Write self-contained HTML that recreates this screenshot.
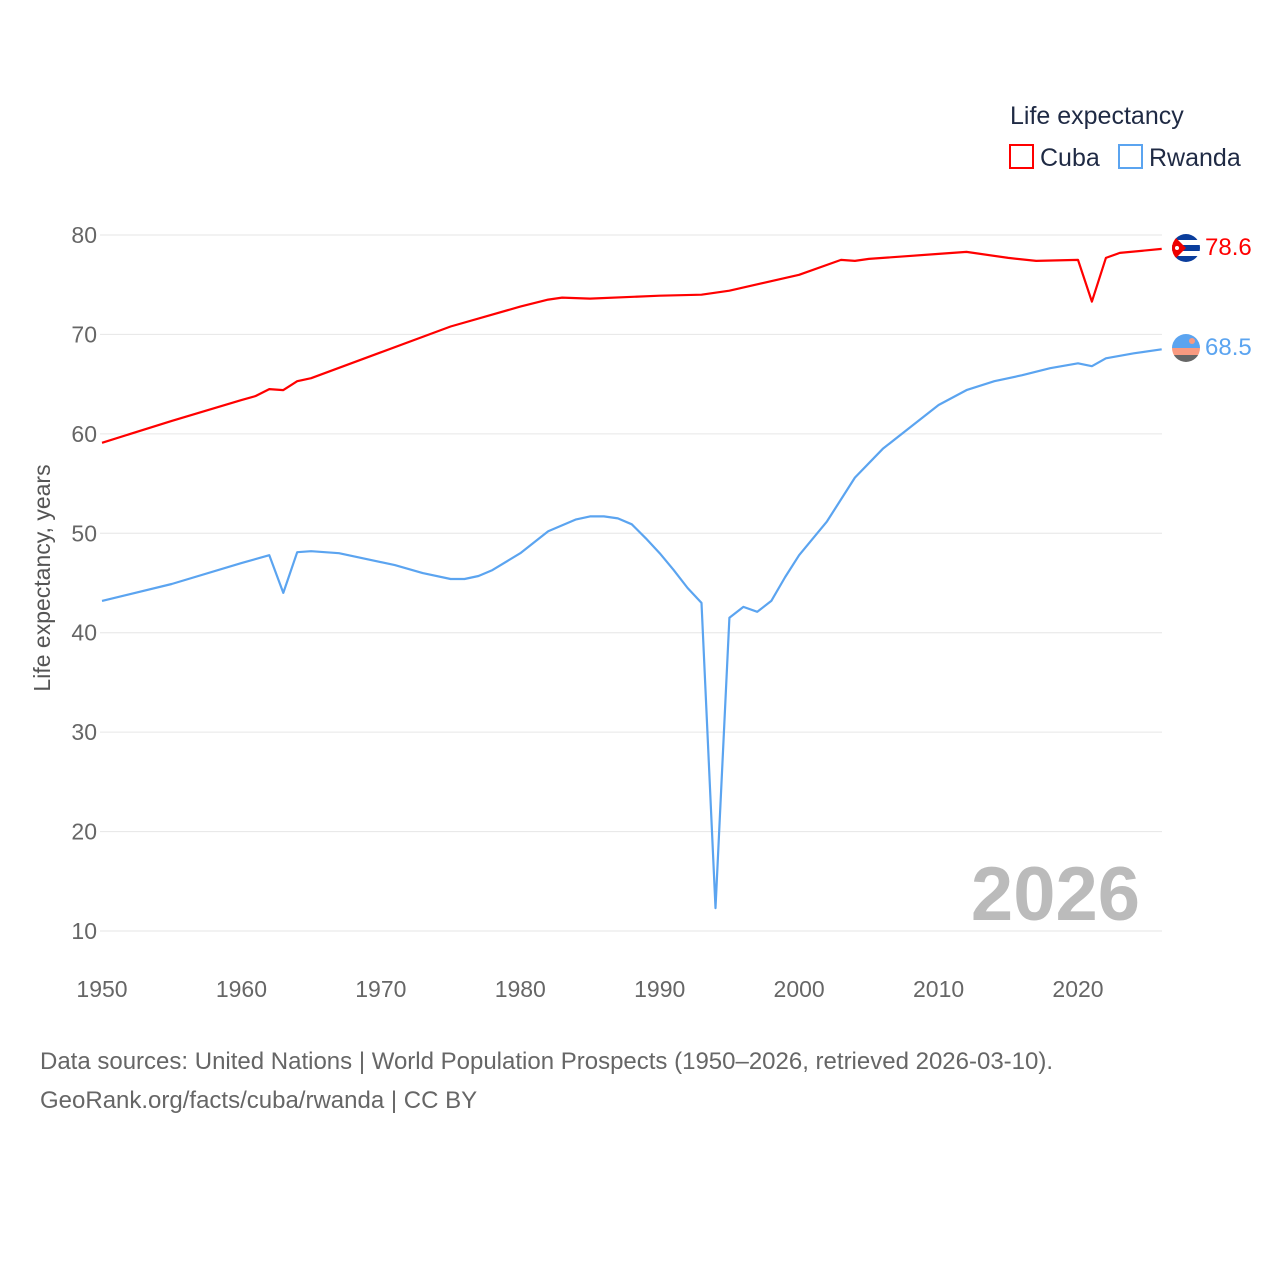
<!DOCTYPE html>
<html><head><meta charset="utf-8"><style>
body{margin:0;background:#fff;font-family:"Liberation Sans",sans-serif}
svg text{font-family:"Liberation Sans",sans-serif}
</style></head><body>
<svg id="chart" width="1280" height="1280" xmlns="http://www.w3.org/2000/svg">
<defs>
<clipPath id="c1"><circle cx="1186" cy="248" r="14"/></clipPath>
<clipPath id="c2"><circle cx="1186" cy="348" r="14"/></clipPath>
</defs>
<text x="1010" y="124" font-size="25" fill="#1f2a44">Life expectancy</text>
<g><rect x="1010" y="145" width="23" height="23" fill="none" stroke="#f00" stroke-width="2"/><text x="1040" y="166" font-size="25" fill="#1f2a44">Cuba</text></g>
<g><rect x="1119" y="145" width="23" height="23" fill="none" stroke="#5ba4f0" stroke-width="2"/><text x="1149" y="166" font-size="25" fill="#1f2a44">Rwanda</text></g>
<g id="grid"></g>
<g id="yticks"></g>
<g id="xticks"></g>
<text transform="translate(50,578) rotate(-90)" text-anchor="middle" font-size="23" fill="#555">Life expectancy, years</text>
<text x="1140" y="920" text-anchor="end" font-size="76" font-weight="bold" fill="#bbb">2026</text>
<g id="series"></g>
<g clip-path="url(#c1)">
<rect x="1172" y="234" width="28" height="28" fill="#fff"/>
<rect x="1172" y="234" width="28" height="6" fill="#0a3d9c"/><rect x="1172" y="245" width="28" height="6" fill="#0a3d9c"/><rect x="1172" y="256" width="28" height="6" fill="#0a3d9c"/>
<polygon points="1172,234 1186,248 1172,262" fill="#e00"/><circle cx="1177" cy="248" r="2" fill="#fff"/></g>
<g clip-path="url(#c2)">
<rect x="1172" y="334" width="28" height="14" fill="#5ba4f0"/><rect x="1172" y="348" width="28" height="7" fill="#f99a80"/><rect x="1172" y="355" width="28" height="7" fill="#666"/><circle cx="1192" cy="341" r="3" fill="#f99a80"/></g>
<text x="1205" y="255" font-size="24" fill="#f00">78.6</text>
<text x="1205" y="355" font-size="24" fill="#5ba4f0">68.5</text>
<text x="40" y="1069" font-size="24" fill="#666">Data sources: United Nations | World Population Prospects (1950–2026, retrieved 2026-03-10).</text>
<text x="40" y="1108" font-size="24" fill="#666">GeoRank.org/facts/cuba/rwanda | CC BY</text>
</svg>
<script>
const yTicks=[10,20,30,40,50,60,70,80];
const xTicks=[1950,1960,1970,1980,1990,2000,2010,2020];
const cubaYears=[1950,1955,1960,1961,1962,1963,1964,1965,1970,1975,1980,1982,1983,1985,1990,1993,1995,2000,2003,2004,2005,2010,2012,2015,2017,2020,2021,2022,2023,2026];
const cubaValues=[59.1,61.3,63.4,63.8,64.5,64.4,65.3,65.6,68.2,70.8,72.8,73.5,73.7,73.6,73.9,74.0,74.4,76.0,77.5,77.4,77.6,78.1,78.3,77.7,77.4,77.5,73.3,77.7,78.2,78.6];
const rwandaYears=[1950,1955,1960,1962,1963,1964,1965,1967,1971,1973,1975,1976,1977,1978,1980,1982,1984,1985,1986,1987,1988,1989,1990,1991,1992,1993,1994,1995,1996,1997,1998,1999,2000,2002,2004,2006,2008,2010,2012,2014,2016,2018,2020,2021,2022,2024,2026];
const rwandaValues=[43.2,44.9,47.0,47.8,44.0,48.1,48.2,48.0,46.8,46.0,45.4,45.4,45.7,46.3,48.0,50.2,51.4,51.7,51.7,51.5,50.9,49.5,48.0,46.3,44.5,43.0,12.3,41.5,42.6,42.1,43.2,45.6,47.8,51.2,55.6,58.5,60.7,62.9,64.4,65.3,65.9,66.6,67.1,66.8,67.6,68.1,68.5];
const X=y=>102+(y-1950)*(976/70);
const Y=v=>235+(80-v)*9.943;
const NS='http://www.w3.org/2000/svg';
function mk(t,a,p){const e=document.createElementNS(NS,t);for(const k in a)e.setAttribute(k,a[k]);p.appendChild(e);return e;}
const g=document.getElementById('grid'),yt=document.getElementById('yticks'),xt=document.getElementById('xticks'),s=document.getElementById('series');
yTicks.forEach(v=>{
 const l=mk('line',{x1:100,x2:1162,y1:Y(v),y2:Y(v),stroke:'#e6e6e6','stroke-width':1},g);
 
 
 const t=mk('text',{x:97,y:Y(v)+8,'text-anchor':'end','font-size':23,fill:'#666'},yt);t.textContent=v;
 
 
});
xTicks.forEach(v=>{
 const t=mk('text',{x:X(v),y:997,'text-anchor':'middle','font-size':23,fill:'#666'},xt);t.textContent=v;
 
 
});
function line(ys,vs,c,n){
 const p=mk('path',{d:ys.map((y,i)=>(i?'L':'M')+X(y).toFixed(1)+','+Y(vs[i]).toFixed(1)).join(''),fill:'none',stroke:c,'stroke-width':2.2,'stroke-linejoin':'round'},s);
 
 
}
line(cubaYears,cubaValues,'#f00','cuba-line');
line(rwandaYears,rwandaValues,'#5ba4f0','rwanda-line');
</script>
</body></html>
